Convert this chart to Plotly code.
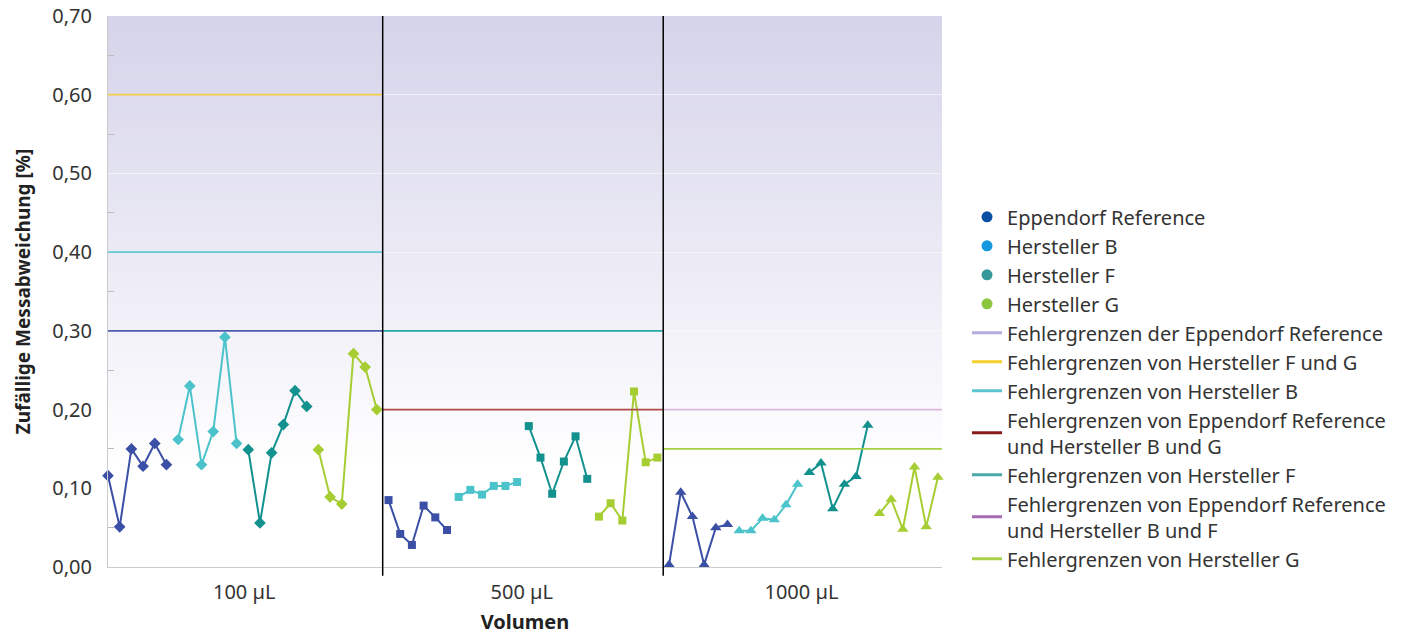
import plotly.graph_objects as go

# ---------------- data ----------------
volumes = ["100 µL", "500 µL", "1000 µL"]
series_names = ["Eppendorf Reference", "Hersteller B", "Hersteller F", "Hersteller G"]

eppendorf_ref = [[0.116, 0.051, 0.150, 0.128, 0.157, 0.130],
                 [0.085, 0.042, 0.028, 0.078, 0.063, 0.047],
                 [0.003, 0.095, 0.064, 0.003, 0.050, 0.054]]
hersteller_b = [[0.162, 0.230, 0.130, 0.172, 0.292, 0.157],
                [0.089, 0.098, 0.092, 0.103, 0.103, 0.108],
                [0.046, 0.046, 0.062, 0.060, 0.079, 0.105]]
hersteller_f = [[0.149, 0.056, 0.145, 0.181, 0.224, 0.204],
                [0.179, 0.139, 0.093, 0.134, 0.166, 0.112],
                [0.120, 0.132, 0.074, 0.105, 0.115, 0.180]]
hersteller_g = [[0.149, 0.089, 0.080, 0.271, 0.254, 0.200],
                [0.064, 0.081, 0.059, 0.223, 0.133, 0.139],
                [0.068, 0.086, 0.048, 0.127, 0.051, 0.114]]

limit_labels = ["Fehlergrenzen der Eppendorf Reference",
                "Fehlergrenzen von Hersteller F und G",
                "Fehlergrenzen von Hersteller B",
                "Fehlergrenzen von Eppendorf Reference<br>und Hersteller B und G",
                "Fehlergrenzen von Hersteller F",
                "Fehlergrenzen von Eppendorf Reference<br>und Hersteller B und F",
                "Fehlergrenzen von Hersteller G"]
limit_volume = [0, 0, 0, 1, 1, 2, 2]
limit_values = [0.30, 0.60, 0.40, 0.20, 0.30, 0.20, 0.15]

# ---------------- styles ----------------
series_data = [eppendorf_ref, hersteller_b, hersteller_f, hersteller_g]
series_line_colors = ["#3a4fa5", "#4cc2ca", "#12918e", "#a6cd32"]
series_legend_colors = ["#0b4fa3", "#1598df", "#36999a", "#8cc63f"]
vol_symbols = ["diamond", "square", "triangle-up"]
vol_marker_sizes = [9, 8, 10]
limit_line_colors = ["#4f5cb0", "#f2cf45", "#62c8d2", "#b04a4a", "#22a9a7", "#d9b8d9", "#a7cf45"]
limit_legend_colors = ["#b3addc", "#f7cf2e", "#5cc6d0", "#8b1c1c", "#4aa9a6", "#a56ab5", "#a8d24c"]

n_per_series = 6
n_per_group = 24
group_edges = [0, 23.5, 47.5, 71.35]
FONT = "Noto Sans"

fig = go.Figure()

# background gradient (overlapping bands to avoid seams)
shapes = []
top = (214, 212, 234)
nb = 70
for k in range(nb):
    y0 = 0.70 * k / nb
    y1 = min(0.70, 0.70 * (k + 1) / nb + 0.006)
    t = (y0 - 0.12) / 0.56
    t = max(0.0, min(1.0, t))
    c = tuple(round(255 + (top[i] - 255) * t) for i in range(3))
    shapes.append(dict(type="rect", xref="paper", yref="y", x0=0, x1=1, y0=y0, y1=y1,
                       fillcolor="rgb(%d,%d,%d)" % c, line=dict(width=0), layer="below"))
# dividers
for e in group_edges[1:-1]:
    shapes.append(dict(type="line", xref="x", yref="paper", x0=e, x1=e, y0=-0.016, y1=1,
                       line=dict(color="black", width=1.5), layer="above"))

# data traces
for s, (name, data) in enumerate(zip(series_names, series_data)):
    for v in range(len(volumes)):
        xs = [v * n_per_group + s * n_per_series + j for j in range(len(data[v]))]
        fig.add_trace(go.Scatter(
            x=xs, y=data[v], mode="lines+markers", showlegend=False, cliponaxis=False,
            line=dict(color=series_line_colors[s], width=2),
            marker=dict(symbol=vol_symbols[v], size=vol_marker_sizes[v], color=series_line_colors[s]),
            name=name, hoverinfo="skip"))

# limit lines
for i, (lab, v, val) in enumerate(zip(limit_labels, limit_volume, limit_values)):
    fig.add_trace(go.Scatter(
        x=[group_edges[v], group_edges[v + 1]], y=[val, val], mode="lines",
        line=dict(color=limit_line_colors[i], width=1.8), showlegend=False, hoverinfo="skip"))

# legend entries
for s, name in enumerate(series_names):
    fig.add_trace(go.Scatter(x=[None], y=[None], mode="markers", name=name,
                             marker=dict(symbol="circle", size=11, color=series_legend_colors[s])))
for i, lab in enumerate(limit_labels):
    fig.add_trace(go.Scatter(x=[None], y=[None], mode="lines", name=lab,
                             line=dict(color=limit_legend_colors[i], width=3)))

fig.update_layout(
    width=1405, height=635,
    margin=dict(l=108, r=463, t=16, b=68),
    paper_bgcolor="white", plot_bgcolor="white",
    separators=",.",
    font=dict(family=FONT, color="#333333", size=20),
    shapes=shapes,
    showlegend=True,
    legend=dict(x=1.03, y=0.671, xanchor="left", yanchor="top",
                font=dict(family=FONT, size=20, color="#333333"),
                bgcolor="rgba(0,0,0,0)", tracegroupgap=0),
    xaxis=dict(range=[group_edges[0], group_edges[-1]], automargin=False,
               tickvals=[(group_edges[i] + group_edges[i + 1]) / 2 - 0.1 for i in range(3)],
               ticktext=volumes, showgrid=False, zeroline=False,
               showline=True, linecolor="#cccccc", linewidth=1, ticks="",
               tickfont=dict(size=20, color="#333333"), ticklabelstandoff=7,
               title=dict(text="<b>Volumen</b>", font=dict(size=20, color="#222222"), standoff=16)),
    yaxis=dict(range=[0, 0.70], dtick=0.1, tickformat=".2f", zeroline=False, automargin=False,
               showline=True, linecolor="#cccccc", linewidth=1,
               showgrid=True, gridcolor="rgba(255,255,255,0.55)", gridwidth=1,
               ticks="", tickfont=dict(size=20, color="#333333"), ticklabelstandoff=11,
               minor=dict(dtick=0.05, ticks="inside", ticklen=6, tickcolor="#bbbbbb", showgrid=False),
               title=dict(text="<b>Zufällige Messabweichung [%]</b>",
                          font=dict(size=19, color="#222222"), standoff=16)),
)

fig.write_html("out.html")
